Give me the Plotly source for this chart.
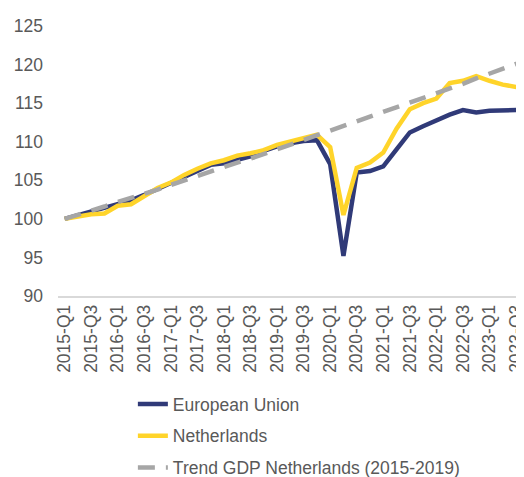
import plotly.graph_objects as go

quarters = [f"{y}-Q{q}" for y in range(2015, 2024) for q in range(1, 5)]

eu = [100.0, 100.5, 101.0, 101.4, 102.0, 102.4, 103.1, 103.9, 104.6, 105.4,
      106.2, 107.0, 107.2, 107.7, 108.1, 108.8, 109.4, 109.8, 110.1, 110.2,
      107.1, 95.2, 106.0, 106.2, 106.8, 109.0, 111.2, 112.0, 112.8, 113.5,
      114.1, 113.8, 114.0, 114.1, 114.1, 114.1]

nl = [100.0, 100.3, 100.6, 100.7, 101.7, 101.9, 103.0, 104.0, 104.7, 105.7,
      106.5, 107.2, 107.6, 108.2, 108.5, 108.9, 109.6, 110.0, 110.4, 110.9,
      109.3, 100.5, 106.6, 107.3, 108.6, 111.7, 114.2, 115.0, 115.6, 117.6,
      117.9, 118.5, 117.9, 117.4, 117.1, 117.4]

trend = [100.0, 100.5, 101.1, 101.6, 102.2, 102.7, 103.3, 103.8, 104.4, 105.0,
         105.5, 106.1, 106.7, 107.3, 107.8, 108.4, 109.0, 109.6, 110.2, 110.8,
         111.4, 112.0, 112.6, 113.2, 113.8, 114.4, 115.0, 115.6, 116.3, 116.9,
         117.5, 118.2, 118.8, 119.5, 120.1, 120.7]

x = list(range(len(quarters)))
tick_idx = x[::2]
tick_text = quarters[::2]

names = ["European Union", "Netherlands", "Trend GDP Netherlands (2015-2019)"]
colors = ["#303A78", "#FFD42A", "#A6A6A6"]

fig = go.Figure()
fig.add_trace(go.Scatter(x=x, y=eu, mode="lines", name=names[0], legendgroup="a",
                         line=dict(color=colors[0], width=4.5)))
fig.add_trace(go.Scatter(x=x, y=nl, mode="lines", name=names[1], legendgroup="b",
                         line=dict(color=colors[1], width=4.5)))
fig.add_trace(go.Scatter(x=x, y=trend, mode="lines", name=names[2], legendgroup="c",
                         line=dict(color=colors[2], width=4.5, dash="17px,11px")))

# the page body adds an 8px margin, so the figure is sized to fit the window
fig.update_layout(
    width=516, height=469,
    margin=dict(l=50, r=0, t=17.5, b=181, autoexpand=False),
    paper_bgcolor="white", plot_bgcolor="white",
    font=dict(family="Liberation Sans, Arial, sans-serif", size=17.5, color="#595959"),
    showlegend=True,
    legend=dict(xref="container", yref="container", x=0.242, y=0.194,
                xanchor="left", yanchor="top",
                orientation="v", tracegroupgap=6,
                font=dict(size=17.5, color="#595959"), bgcolor="rgba(0,0,0,0)"),
    xaxis=dict(range=[-0.5, 34.6], tickmode="array", tickvals=tick_idx, ticktext=tick_text,
               tickangle=-90, showgrid=False, zeroline=False, automargin=False,
               ticklabeloverflow="allow",
               showline=True, linecolor="#D9D9D9", linewidth=1.5,
               ticks="", tickfont=dict(size=17.5, color="#595959")),
    yaxis=dict(range=[90, 125], dtick=5, showgrid=False, zeroline=False,
               showline=False, ticks="", ticklabelstandoff=14, automargin=False,
               tickfont=dict(size=17.5, color="#595959")),
)

fig.write_html("out.html")
